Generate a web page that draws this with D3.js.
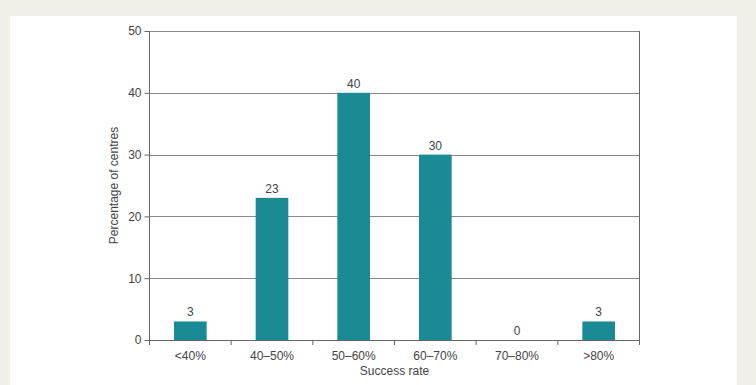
<!DOCTYPE html>
<html><head><meta charset="utf-8">
<script src="https://cdn.jsdelivr.net/npm/d3@7"></script>
<style>
html,body{margin:0;padding:0;background:#f0f0e8;}
svg{display:block;}
text{font-family:"Liberation Sans",Arial,Helvetica,sans-serif;}
</style></head>
<body>
<svg id="chart" width="756" height="385"></svg>
<script>
const categories = ["<40%", "40–50%", "50–60%", "60–70%", "70–80%", ">80%"];
const values = [3, 23, 40, 30, 0, 3];
const yTicks = [0, 10, 20, 30, 40, 50];
const xTitle = "Success rate";
const yTitle = "Percentage of centres";

(function () {
const svg = d3.select("#chart");
svg.append("rect").attr("x", 10).attr("y", 16).attr("width", 727).attr("height", 369).attr("fill", "#ffffff");

const pL = 149.5, pR = 639.5, pT = 31, pB = 340;
const fs = 12;
const x = d3.scaleBand().domain(categories).range([pL, pR]).paddingInner(0.6).paddingOuter(0.3);
const xb = d3.scaleBand().domain(categories).range([pL, pR]);
const y = d3.scaleLinear().domain([0, 50]).range([pB, pT]);

const textCol = "#444";
const lineCol = "#666";

// gridlines
svg.append("g").selectAll("line").data(yTicks.filter(d => d > 0)).join("line")
  .attr("x1", pL).attr("x2", pR)
  .attr("y1", d => Math.round(y(d)) + 0.5).attr("y2", d => Math.round(y(d)) + 0.5)
  .attr("stroke", "#888").attr("stroke-width", 1);

// right border
svg.append("line").attr("x1", pR).attr("x2", pR).attr("y1", pT).attr("y2", pB + 5)
  .attr("stroke", lineCol);

// bars
svg.append("g").selectAll("rect").data(values).join("rect")
  .attr("x", (d, i) => x(categories[i]))
  .attr("width", x.bandwidth())
  .attr("y", d => y(d))
  .attr("height", d => y(0) - y(d))
  .attr("fill", "#1a8a94");

// value labels
svg.append("g").selectAll("text").data(values).join("text")
  .attr("x", (d, i) => x(categories[i]) + x.bandwidth() / 2)
  .attr("y", d => y(d) - 5)
  .attr("text-anchor", "middle")
  .attr("font-size", fs).attr("fill", textCol)
  .text(d => d);

// y axis
const yAxis = d3.axisLeft(y).tickValues(yTicks).tickSize(5).tickPadding(3);
const yg = svg.append("g").attr("transform", `translate(${pL},0)`).call(yAxis);
yg.select(".domain").attr("stroke", lineCol).attr("d", `M0,${pT}V${pB}`);
yg.selectAll(".tick line").attr("stroke", lineCol);
yg.selectAll(".tick text").attr("font-size", fs).attr("fill", textCol).attr("font-family", "Liberation Sans, Arial, sans-serif");

// x axis with ticks at band boundaries
const xg = svg.append("g").attr("transform", `translate(0,${pB})`);
xg.append("line").attr("x1", pL).attr("x2", pR).attr("y1", 0.5).attr("y2", 0.5).attr("stroke", lineCol);
const bounds = categories.map(c => xb(c)).concat([pR]);
xg.selectAll("line.tk").data(bounds).join("line").attr("class", "tk")
  .attr("x1", d => d).attr("x2", d => d).attr("y1", 0).attr("y2", 5).attr("stroke", lineCol);
xg.selectAll("text").data(categories).join("text")
  .attr("x", d => xb(d) + xb.bandwidth() / 2)
  .attr("y", 19.5)
  .attr("text-anchor", "middle").attr("font-size", fs).attr("fill", textCol)
  .text(d => d);

// titles
svg.append("text").attr("x", (pL + pR) / 2).attr("y", 375)
  .attr("text-anchor", "middle").attr("font-size", fs).attr("fill", textCol).text(xTitle);
svg.append("text").attr("transform", `translate(117.5,${(pT + pB) / 2}) rotate(-90)`)
  .attr("text-anchor", "middle").attr("font-size", fs).attr("fill", textCol).text(yTitle);
})();
</script>
</body></html>
